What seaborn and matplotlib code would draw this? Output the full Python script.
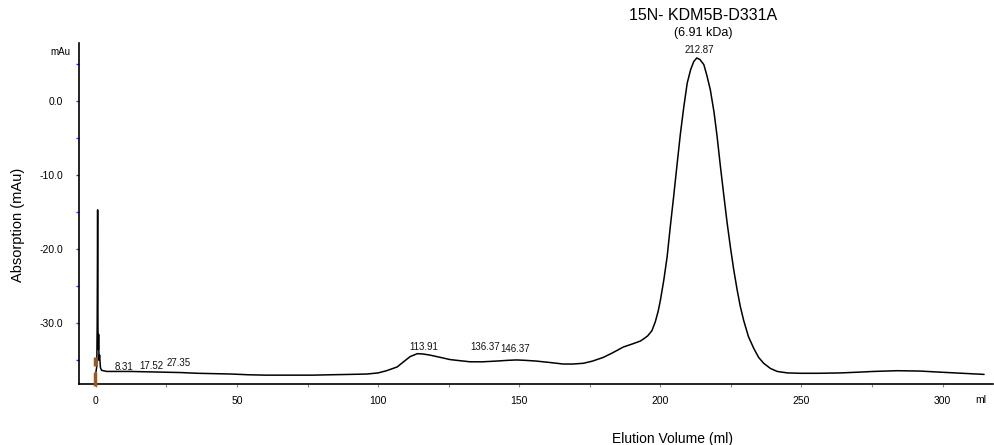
import matplotlib
matplotlib.use("Agg")
import matplotlib.pyplot as plt
import seaborn as sns
import pandas as pd
from matplotlib.ticker import MultipleLocator

# ---- data ----
volume_ml = [0.0, 0.3, 0.45, 0.6, 0.72, 0.85, 0.95, 1.1, 1.3, 1.6, 2.0, 3.8, 8, 12, 18, 24,
             30, 36, 42, 48, 54, 60, 66, 72, 77, 83, 90, 96, 100, 103, 106.7, 109, 111.3,
             113.9, 116, 118.4, 122, 125.5, 129, 132.6, 137, 142, 146, 149, 152, 156, 161,
             165.6, 169, 172.7, 176, 179.8, 183, 186.9, 190, 192.9, 194.1, 195.5, 197.0,
             198.2, 199.2, 200, 201.2, 202.4, 203.5, 204.7, 205.9, 207.1, 208.3, 209.5,
             210.7, 211.8, 212.87, 214, 215.4, 216.5, 217.7, 219, 220.1, 221.2, 222.4,
             223.6, 224.8, 226, 227.2, 228.3, 229.5, 231.2, 233.1, 234.8, 236.6, 239,
             241.4, 245, 249.6, 256, 263.8, 270, 275.6, 283.9, 292, 299.3, 307, 314.7]
absorb_mau = [-36.6, -35.8, -30.0, -14.7, -31.0, -33.5, -31.5, -35.0, -34.3, -36.0, -36.35,
              -36.5, -36.5, -36.5, -36.55, -36.6, -36.65, -36.75, -36.8, -36.85, -36.95,
              -37.0, -37.0, -37.0, -37.0, -36.95, -36.9, -36.85, -36.7, -36.4, -35.9,
              -35.2, -34.5, -34.1, -34.15, -34.3, -34.6, -34.9, -35.05, -35.2, -35.2,
              -35.1, -35.0, -34.95, -35.0, -35.1, -35.3, -35.5, -35.5, -35.4, -35.1,
              -34.6, -34.0, -33.2, -32.8, -32.4, -32.1, -31.7, -31.0, -29.8, -28.4,
              -26.9, -24.2, -21.0, -17.0, -12.9, -8.6, -4.4, -0.8, 2.4, 4.2, 5.3, 5.8,
              5.6, 4.9, 3.4, 1.5, -1.5, -4.8, -8.6, -12.5, -16.3, -19.7, -22.8, -25.5,
              -27.7, -29.6, -31.8, -33.4, -34.6, -35.4, -36.1, -36.5, -36.7, -36.75,
              -36.75, -36.7, -36.6, -36.5, -36.4, -36.45, -36.6, -36.75, -36.9]

peak_ml = [8.31, 17.52, 27.35, 113.91, 136.37, 146.37, 212.87]
peak_label_x = [10.0, 19.7, 29.3, 116.0, 138.0, 148.6, 213.9]
peak_label_y = [-35.9, -35.7, -35.4, -33.2, -33.2, -33.5, 6.9]

marker_x = [-0.3, -0.3]
marker_lo = [-35.7, -38.4]
marker_hi = [-34.6, -36.6]

x_major = [0, 50, 100, 150, 200, 250, 300]
y_major = [-30.0, -20.0, -10.0, 0.0]

title_text = "15N- KDM5B-D331A"
subtitle_text = "(6.91 kDa)"

df = pd.DataFrame({"Elution Volume (ml)": volume_ml, "Absorption (mAu)": absorb_mau})

sns.set_style("ticks")
plt.rcParams["font.family"] = ["Liberation Sans", "DejaVu Sans"]
plt.rcParams["text.color"] = "black"
plt.rcParams["axes.labelcolor"] = "black"
plt.rcParams["xtick.labelcolor"] = "black"
plt.rcParams["ytick.labelcolor"] = "black"

fig = plt.figure(figsize=(9.95, 4.45), dpi=100)
ax = fig.add_axes([0.0794, 0.137, 0.919, 0.766])

sns.lineplot(data=df, x="Elution Volume (ml)", y="Absorption (mAu)", ax=ax,
             color="black", lw=1.1, estimator=None, sort=False)

ax.vlines(marker_x, marker_lo, marker_hi, colors="#a0561e", lw=2.5, clip_on=False, zorder=3)

ax.set_xlim(-6.0, 318)
ax.set_ylim(-38.2, 7.8)

ax.set_xticks(x_major)
ax.set_xticklabels([str(v) for v in x_major], fontsize=7.5)
ax.xaxis.set_minor_locator(MultipleLocator(25))
ax.set_yticks(y_major)
ax.set_yticklabels([f"{v:.1f}" for v in y_major], fontsize=7.5)
ax.yaxis.set_minor_locator(MultipleLocator(5))

ax.tick_params(axis="x", which="both", direction="out", length=2.5, width=0.8,
               color="#888888", labelcolor="black", pad=6)
ax.tick_params(axis="y", which="both", direction="out", length=2.5, width=1.0,
               color="#2f2fff", labelcolor="black", pad=9)

for s in ["top", "right"]:
    ax.spines[s].set_visible(False)
for s in ["left", "bottom"]:
    ax.spines[s].set_linewidth(1.2)
    ax.spines[s].set_color("black")

ax.set_xlabel("Elution Volume (ml)", fontsize=10, color="black")
ax.set_ylabel("Absorption (mAu)", fontsize=10.5, color="black")
ax.xaxis.set_label_coords(0.649, -0.14)
ax.yaxis.set_label_coords(-0.059, 0.466)

for pk, lx, ly in zip(peak_ml, peak_label_x, peak_label_y):
    ax.text(lx, ly, f"{pk:.2f}", fontsize=7, ha="center", va="center", color="#111111")

ax.text(215.2, 11.6, title_text, fontsize=11.5, ha="center", va="center",
        color="black", clip_on=False)
ax.text(215.2, 9.2, subtitle_text, fontsize=9, ha="center", va="center",
        color="black", clip_on=False)

ax.text(-0.0099, 6.6, "mAu", fontsize=7, ha="right", va="center", color="black",
        transform=ax.get_yaxis_transform())
ax.text(313.5, -0.047, "ml", fontsize=7.5, ha="center", va="center", color="black",
        transform=ax.get_xaxis_transform())

fig.savefig("out.png", dpi=100)
